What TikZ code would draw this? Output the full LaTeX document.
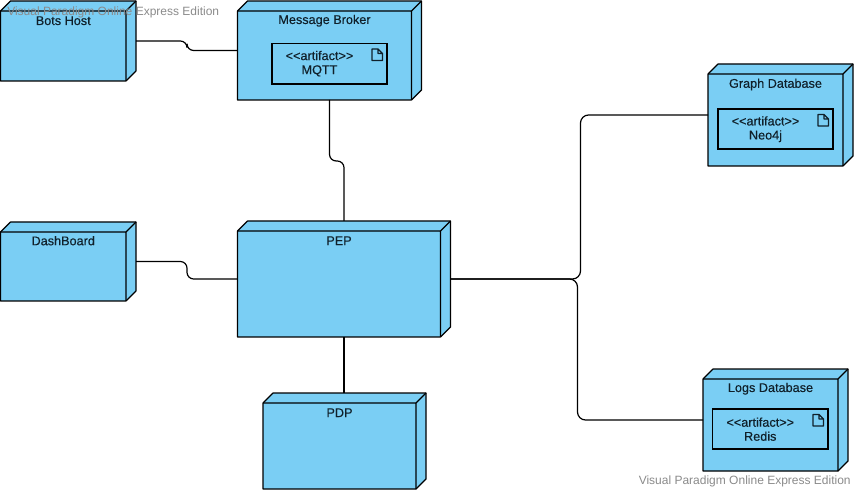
\documentclass[tikz,border=0pt]{standalone}
\usepackage{fontspec}
\setmainfont{Liberation Sans}
\newfontfamily\labelfont[FakeBold=0.25]{Liberation Sans}
\usetikzlibrary{fit}
\definecolor{nodeblue}{HTML}{7ACEF4}
\definecolor{inktext}{HTML}{10202A}
\definecolor{wm}{HTML}{8A8A8A}
\tikzset{
  x=0.75pt,y=-0.75pt,
  face/.style={draw=black,fill=nodeblue,line width=0.9pt,line join=round},
  edgeline/.style={draw=black,line width=0.9pt,line join=round},
  outerbox/.style={inner sep=0pt,outer sep=0pt},
  nodelabel/.style={font=\labelfont\fontsize{9.5}{10.5}\selectfont,text=inktext,inner sep=0pt,align=center},
  artbox/.style={draw=black,line width=0.95pt,inner sep=0pt,outer sep=0pt},
  link/.style={draw=black,line width=0.9pt},
  watermark/.style={font=\fontsize{9}{10.5}\selectfont,text=wm,inner sep=0pt,anchor=base west},
}
% name, front x1,y1,x2,y2, label, label y
\newcommand{\depnode}[7]{%
  \draw[face] (#2,#3) -- (#2+10,#3-10) -- (#4+10,#3-10) -- (#4+10,#5-10) -- (#4,#5) -- (#2,#5) -- cycle;
  \draw[edgeline] (#2,#3) -- (#4,#3) -- (#4,#5) (#4,#3) -- (#4+10,#3-10);
  \node[outerbox,fit={(#2,#3-10) (#4+10,#5)}] (#1) {};
  \node[nodelabel] (#1-label) at ({(#2+#4)/2},#7) {#6};
}
% name, x1,y1,x2,y2, name text
\newcommand{\artifact}[6]{%
  \node[artbox,fit={(#2,#3) (#4,#5)}] (#1) {};
  \node[nodelabel] (#1-label) at ({(#2+#4)/2-10},{#3+20.2}) {<{}<artifact>{}>\\#6};
  \draw[line width=0.9pt,draw=inktext,line join=round]
    (#4-15,#3+5.5) -- (#4-9,#3+5.5) -- (#4-4.5,#3+10) -- (#4-4.5,#3+17) -- (#4-15,#3+17) -- cycle
    (#4-9,#3+5.5) -- (#4-9,#3+10) -- (#4-4.5,#3+10);
}
\begin{document}
\begin{tikzpicture}
\useasboundingbox (0,0) rectangle (856,491);
\depnode{bots}{0.5}{11}{126}{81}{Bots Host}{20.7}
\depnode{broker}{237.5}{11}{411.5}{100}{Message Broker}{20.7}
\depnode{graph}{708}{74}{843}{166}{Graph Database}{84.5}
\depnode{dash}{0.5}{232}{126}{301}{DashBoard}{240.7}
\depnode{pep}{237.5}{231}{440.5}{337}{PEP}{240.7}
\depnode{pdp}{263}{403}{416}{489}{PDP}{412.7}
\depnode{logs}{703}{379}{838}{471}{Logs Database}{388.7}
\artifact{mqtt}{272}{43.5}{387}{84}{MQTT}
\artifact{neo}{718}{109}{833}{149}{Neo4j}
\artifact{redis}{712.5}{409}{828}{449}{Redis}
\draw[link,rounded corners=5pt] (bots.east) -- ++(51,0) |- (broker.west);
\draw[link,rounded corners=5pt] (broker.south) -- ++(0,61) -| (pep.north);
\draw[link,rounded corners=5pt] (dash.east) -- ++(51,0) |- (pep.west);
\draw[link,rounded corners=6pt] (pep.east) -- ++(130,0) |- (graph.west);
\draw[link,rounded corners=6pt] (pep.east) -- ++(127,0) |- (logs.west);
\draw[link,line width=1.5pt] (pep.south) -- (pep.south |- pdp.north);
\node[watermark] (wmtop) at (7,15.5) {Visual Paradigm Online Express Edition};
\node[watermark] (wmbot) at (638.5,484) {Visual Paradigm Online Express Edition};
\end{tikzpicture}
\end{document}
